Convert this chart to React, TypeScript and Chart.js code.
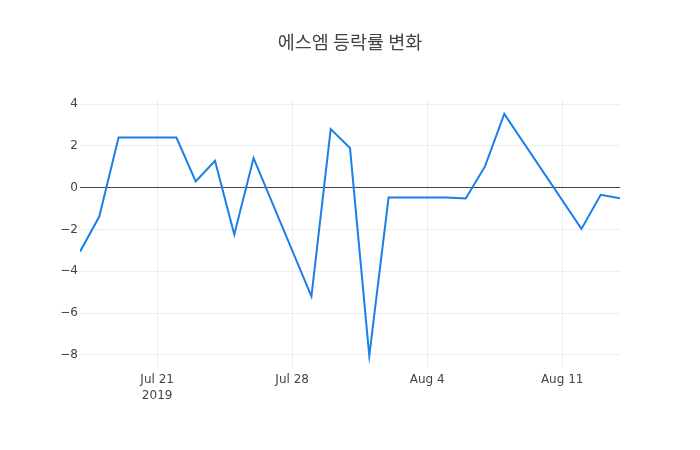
import React, { useEffect, useRef } from "react";
import { Chart, registerables } from "chart.js";

Chart.register(...registerables);

const TITLE = "에스엠 등락률 변화";
const dates = [
  "2019-07-17", "2019-07-18", "2019-07-19", "2019-07-22", "2019-07-23",
  "2019-07-24", "2019-07-25", "2019-07-26", "2019-07-29", "2019-07-30",
  "2019-07-31", "2019-08-01", "2019-08-02", "2019-08-05", "2019-08-06",
  "2019-08-07", "2019-08-08", "2019-08-12", "2019-08-13", "2019-08-14",
];
const changes = [
  -3.06, -1.38, 2.4, 2.4, 0.3,
  1.29, -2.24, 1.42, -5.2, 2.81,
  1.9, -8.05, -0.47, -0.47, -0.51,
  1.02, 3.53, -1.97, -0.34, -0.5,
];
const yTicks = [-8, -6, -4, -2, 0, 2, 4];
const xTickDates = ["2019-07-21", "2019-07-28", "2019-08-04", "2019-08-11"];
const xTickLabels: (string | string[])[] = [["Jul 21", "2019"], "Jul 28", "Aug 4", "Aug 11"];
const X_START = "2019-07-17";
const X_END = "2019-08-14";

const DAY = 86400000;
const toDay = (s: string) => (Date.parse(s + "T00:00:00Z") - Date.parse(X_START + "T00:00:00Z")) / DAY;

export default function App() {
  const ref = useRef<HTMLCanvasElement | null>(null);
  useEffect(() => {
    if (!ref.current) return;
    const tickPositions = xTickDates.map(toDay);
    const chart = new Chart(ref.current, {
      type: "line",
      data: {
        datasets: [
          {
            data: dates.map((d, i) => ({ x: toDay(d), y: changes[i] })),
            borderColor: "#1a7fe6",
            borderWidth: 2,
            pointRadius: 0,
            tension: 0,
            fill: false,
            yAxisID: "y",
          },
        ],
      },
      options: {
        animation: false,
        responsive: false,
        maintainAspectRatio: false,
        layout: { padding: 0 },
        plugins: {
          legend: { display: false },
          tooltip: { enabled: false },
          title: {
            display: true,
            text: TITLE,
            color: "#444",
            font: { family: "'Noto Sans CJK KR', 'DejaVu Sans', sans-serif", size: 18.5, weight: "normal", lineHeight: 1.2 },
            padding: { top: 31, bottom: 47 },
          },
        },
        scales: {
          x: {
            type: "linear",
            min: 0,
            max: toDay(X_END),
            afterBuildTicks: (scale: any) => {
              scale.ticks = tickPositions.map((v) => ({ value: v }));
            },
            afterFit: (scale: any) => {
              scale.height = 83;
            },
            ticks: {
              autoSkip: false,
              maxRotation: 0,
              padding: 5,
              color: "#444",
              font: { family: "'DejaVu Sans', sans-serif", size: 12, lineHeight: 1.35 },
              callback: (value: any) => {
                const i = tickPositions.indexOf(Number(value));
                return i >= 0 ? xTickLabels[i] : "";
              },
            },
            grid: { color: "#eee", lineWidth: 1, drawTicks: false },
            border: { display: false },
          },
          y: {
            type: "linear",
            position: "left",
            min: -8.58,
            max: 4.19,
            afterBuildTicks: (scale: any) => {
              scale.ticks = yTicks.map((v) => ({ value: v }));
            },
            afterFit: (scale: any) => {
              scale.width = 80;
            },
            ticks: {
              padding: 2,
              color: "#444",
              font: { family: "'DejaVu Sans', sans-serif", size: 12 },
              callback: (value: any) => (Number(value) < 0 ? "\u2212" + Math.abs(Number(value)) : String(value)),
            },
            grid: {
              color: (ctx: any) => (ctx.tick && ctx.tick.value === 0 ? "#444" : "#eee"),
              lineWidth: 1,
              drawTicks: false,
            },
            border: { display: false },
          },
          yRight: {
            type: "linear",
            position: "right",
            min: -8.58,
            max: 4.19,
            afterFit: (scale: any) => {
              scale.width = 80;
            },
            ticks: { display: false },
            grid: { display: false, drawTicks: false },
            border: { display: false },
          },
        },
      },
    });
    return () => chart.destroy();
  }, []);
  return (
    <div style={{ position: "fixed", left: 0, top: 0, width: 700, height: 450, background: "#fff" }}>
      <canvas ref={ref} width={700} height={450} style={{ width: 700, height: 450 }} />
    </div>
  );
}
